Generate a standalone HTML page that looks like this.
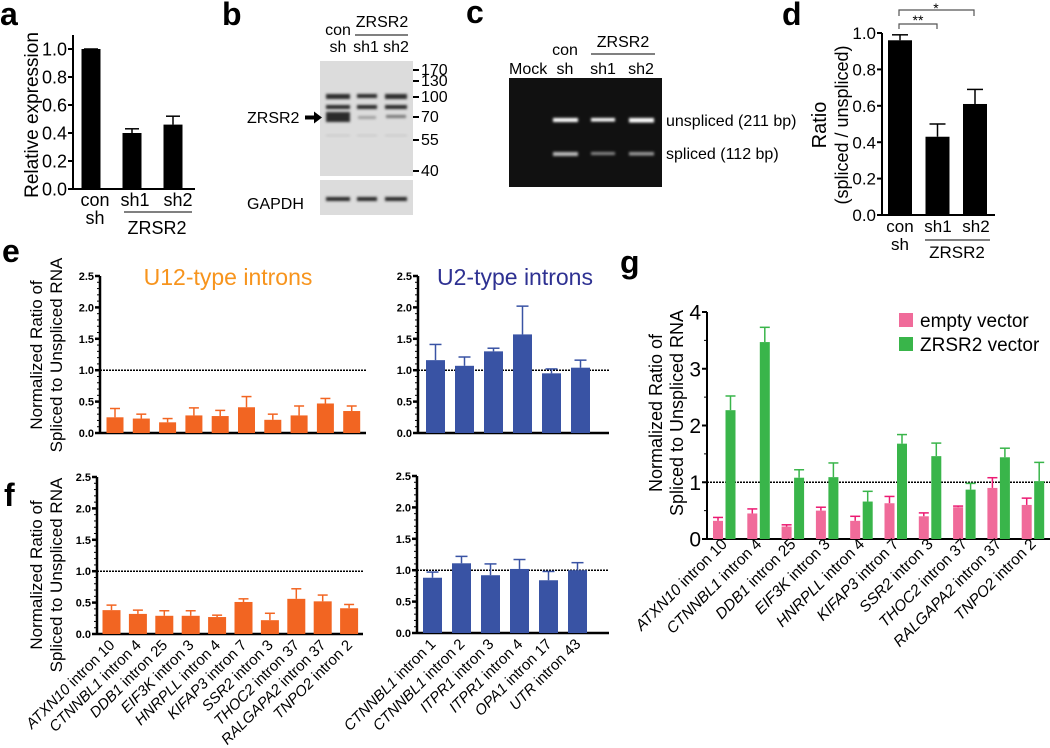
<!DOCTYPE html>
<html><head><meta charset="utf-8"><style>
html,body{margin:0;padding:0;background:#fff}
svg{display:block;font-family:"Liberation Sans",Arial,sans-serif}
</style></head><body>
<svg id="fig" width="1050" height="748" viewBox="0 0 1050 748" xmlns="http://www.w3.org/2000/svg">
<defs>
<filter id="blur1" x="-20%" y="-100%" width="140%" height="300%"><feGaussianBlur stdDeviation="1.2"/></filter>
</defs>
<g font-weight="bold" font-size="32" fill="#000">
<text x="0" y="25">a</text>
<text x="222" y="25">b</text>
<text x="466" y="23">c</text>
<text x="782" y="25">d</text>
<text x="2" y="262">e</text>
<text x="4" y="506">f</text>
<text x="620" y="273">g</text>
</g>

<g font-size="16">
<rect x="320" y="61" width="93" height="115" fill="#dcdcdc"/>
<rect x="320" y="180" width="93" height="35" fill="#dcdcdc"/>
<g fill="#2a2a2a" filter="url(#blur1)">
<rect x="326" y="94" width="24" height="5"/><rect x="357" y="94" width="20" height="4"/><rect x="385" y="94" width="22" height="5"/>
<rect x="326" y="105" width="24" height="4"/><rect x="357" y="105" width="20" height="4"/><rect x="385" y="105" width="22" height="4"/>
<rect x="326" y="112" width="24" height="10"/><rect x="358" y="116" width="18" height="3" fill="#a0a0a0"/><rect x="386" y="115" width="20" height="3" fill="#777"/>
<rect x="326" y="135" width="24" height="1" fill="#bbb"/><rect x="357" y="135" width="20" height="1" fill="#bbb"/><rect x="385" y="135" width="22" height="1" fill="#bbb"/>
<rect x="326" y="197" width="24" height="4"/><rect x="357" y="197" width="20" height="4"/><rect x="385" y="197" width="22" height="4"/>
</g>
<g fill="#000">
<text x="338" y="35" text-anchor="middle">con</text><text x="338" y="52" text-anchor="middle">sh</text>
<text x="366" y="52" text-anchor="middle">sh1</text><text x="396" y="52" text-anchor="middle">sh2</text>
<text x="382" y="27" text-anchor="middle">ZRSR2</text>
<line x1="355" y1="35" x2="408" y2="35" stroke="#000" stroke-width="1"/>
<text x="247" y="123">ZRSR2</text>
<path d="M305 115.5 h9 v-4 l8 6 -8 6 v-4 h-9z" fill="#000"/>
<text x="247" y="209">GAPDH</text>
<g>
<path d="M413 70h6M413 81h6M413 97h6M413 117h6M413 140h6M413 171h6" stroke="#000" stroke-width="2"/>
<text x="421" y="75">170</text><text x="421" y="86">130</text><text x="421" y="102">100</text>
<text x="421" y="122">70</text><text x="421" y="145">55</text><text x="421" y="176">40</text>
</g>
</g>
</g>

<g font-size="16">
<rect x="509" y="78" width="153" height="109" fill="#111"/>
<g fill="#fff" filter="url(#blur1)">
<rect x="553" y="118" width="25" height="4"/><rect x="591" y="118" width="24" height="3.5"/><rect x="629" y="118" width="25" height="4.5"/>
<rect x="553" y="152" width="25" height="4" fill="#bbb"/><rect x="591" y="152" width="24" height="3" fill="#888"/><rect x="629" y="152" width="25" height="3.5" fill="#999"/>
</g>
<text x="509" y="74">Mock</text>
<text x="565" y="55" text-anchor="middle">con</text><text x="565" y="74" text-anchor="middle">sh</text>
<text x="603" y="74" text-anchor="middle">sh1</text><text x="641" y="74" text-anchor="middle">sh2</text>
<text x="623" y="47" text-anchor="middle">ZRSR2</text>
<line x1="591" y1="54" x2="655" y2="54" stroke="#000"/>
<text x="666" y="126">unspliced (211 bp)</text>
<text x="666" y="159">spliced (112 bp)</text>
</g>

<g id="charts"></g>
</svg>
<script>
const aCats = ["con sh","sh1","sh2"];
const aVals = [1.0, 0.40, 0.46];
const aErr = [1.0, 0.43, 0.52];
const aTicks = ["0.0","0.2","0.4","0.6","0.8","1.0"];
const dCats = ["con sh","sh1","sh2"];
const dVals = [0.96, 0.43, 0.61];
const dErr = [0.99, 0.50, 0.69];
const dTicks = ["0.0","0.2","0.4","0.6","0.8","1.0"];
const u12Genes = ["ATXN10","CTNNBL1","DDB1","EIF3K","HNRPLL","KIFAP3","SSR2 ","THOC2","RALGAPA2","TNPO2"];
const u12Introns = ["intron 10","intron 4","intron 25","intron 3","intron 4","intron 7","intron 3","intron 37","intron 37","intron 2"];
const u2Genes = ["CTNNBL1","CTNNBL1","ITPR1","ITPR1","OPA1","UTR"];
const u2Introns = ["intron 1","intron 2","intron 3","intron 4","intron 17","intron 43"];
const eU12Vals = [0.25,0.23,0.17,0.28,0.27,0.41,0.21,0.28,0.47,0.35];
const eU12Err = [0.39,0.30,0.23,0.40,0.36,0.58,0.30,0.43,0.55,0.43];
const eU2Vals = [1.16,1.07,1.30,1.57,0.95,1.04];
const eU2Err = [1.41,1.21,1.35,2.02,1.02,1.16];
const fU12Vals = [0.38,0.32,0.29,0.29,0.27,0.51,0.22,0.56,0.52,0.41];
const fU12Err = [0.46,0.38,0.37,0.37,0.30,0.56,0.33,0.72,0.62,0.47];
const fU2Vals = [0.88,1.11,0.92,1.02,0.84,1.00];
const fU2Err = [0.97,1.22,1.10,1.17,0.98,1.12];
const efTicks = ["0.0","0.5","1.0","1.5","2.0","2.5"];
const gEmpty = [0.32,0.45,0.22,0.50,0.32,0.63,0.40,0.56,0.90,0.60];
const gEmptyErr = [0.38,0.53,0.25,0.56,0.40,0.75,0.46,0.58,1.08,0.72];
const gZrsr = [2.27,3.47,1.08,1.09,0.66,1.68,1.46,0.87,1.44,1.02];
const gZrsrErr = [2.52,3.73,1.22,1.34,0.84,1.84,1.69,0.98,1.60,1.35];
const gTicks = ["0","1","2","3","4"];

const NS="http://www.w3.org/2000/svg";
const root=document.getElementById("charts");
function mk(tag,attrs,parent,txt){const e=document.createElementNS(NS,tag);for(const k in attrs)e.setAttribute(k,attrs[k]);if(txt!==undefined)e.textContent=txt;(parent||root).appendChild(e);return e;}

function chart(o){
  const g=mk("g",{});
  
  
  const y=v=>o.y0-(v/o.max)*(o.y0-o.yTop);
  const x=i=>o.x0+o.off+o.step*i;
  const ax=mk("line",{x1:o.ax,y1:o.yTop-(o.overshoot||0),x2:o.ax,y2:o.y0,stroke:"#000","stroke-width":o.sw},g);
  
  
  o.ticks.forEach((t,i)=>{
    const v=o.max*i/(o.ticks.length-1), yy=y(v);
    mk("line",{x1:o.ax-5,y1:yy,x2:o.ax,y2:yy,stroke:"#000","stroke-width":o.sw},g);
    const tl=mk("text",{x:o.ax-6,y:yy+o.fs*0.36,"text-anchor":"end","font-size":o.fs,"font-weight":o.bold?"bold":"normal"},g,t);
    
    
  });
  if(o.minor){for(let v=0;v<=o.max+1e-9;v+=o.minor){const yy=y(v);mk("line",{x1:o.ax-3,y1:yy,x2:o.ax,y2:yy,stroke:"#000","stroke-width":1},g);}}
  const xa=mk("line",{x1:o.ax,y1:o.y0,x2:o.xEnd,y2:o.y0,stroke:"#000","stroke-width":o.sw},g);
  
  
  if(o.ref){const r=mk("line",{x1:o.ax,y1:y(1),x2:o.xEnd,y2:y(1),stroke:"#000","stroke-width":1.5,"stroke-dasharray":"2,1"},g);
    
    }
  o.series.forEach(s=>{
    s.vals.forEach((v,i)=>{
      const cx=x(i)+s.dx;
      const top=y(s.err[i]);
      mk("line",{x1:cx,y1:top,x2:cx,y2:y(v),stroke:s.ec,"stroke-width":1.5},g);
      mk("line",{x1:cx-o.cap,y1:top,x2:cx+o.cap,y2:top,stroke:s.ec,"stroke-width":1.5},g);
      const b=mk("rect",{x:cx-o.bw/2,y:y(v),width:o.bw,height:o.y0-y(v),fill:s.color},g);
      
      
    });
  });
  return {g,x,y};
}

const A=chart({name:"panel-a-chart",ax:73,y0:189,yTop:49,max:1.0,overshoot:14,x0:91,off:0,step:41,xEnd:195,bw:19,cap:7,sw:2,fs:18,ticks:aTicks,
  series:[{key:"a",vals:aVals,err:aErr,color:"#000",ec:"#000",dx:0}]});
mk("text",{x:95,y:206,"text-anchor":"middle","font-size":18},A.g,"con");
mk("text",{x:95,y:224,"text-anchor":"middle","font-size":18},A.g,"sh");
mk("text",{x:135,y:206,"text-anchor":"middle","font-size":18},A.g,"sh1");
mk("text",{x:178,y:206,"text-anchor":"middle","font-size":18},A.g,"sh2");
mk("line",{x1:124,y1:212,x2:192,y2:212,stroke:"#000"},A.g);
mk("text",{x:157,y:234,"text-anchor":"middle","font-size":18},A.g,"ZRSR2");
const aT=mk("text",{transform:"translate(38,115) rotate(-90)","text-anchor":"middle","font-size":19},A.g,"Relative expression");



const D=chart({name:"panel-d-chart",ax:882,y0:215,yTop:33,max:1.0,overshoot:0,x0:900,off:0,step:37.5,xEnd:995,bw:24,cap:8,sw:2,fs:17,ticks:dTicks,
  series:[{key:"d",vals:dVals,err:dErr,color:"#000",ec:"#000",dx:0}]});
mk("text",{x:900,y:232,"text-anchor":"middle","font-size":17},D.g,"con");
mk("text",{x:900,y:250,"text-anchor":"middle","font-size":17},D.g,"sh");
mk("text",{x:938,y:232,"text-anchor":"middle","font-size":17},D.g,"sh1");
mk("text",{x:976,y:232,"text-anchor":"middle","font-size":17},D.g,"sh2");
mk("line",{x1:925,y1:240,x2:990,y2:240,stroke:"#000"},D.g);
mk("text",{x:957,y:258,"text-anchor":"middle","font-size":17},D.g,"ZRSR2");
mk("text",{transform:"translate(826,125) rotate(-90)","text-anchor":"middle","font-size":20},D.g,"Ratio");
mk("text",{transform:"translate(848,125) rotate(-90)","text-anchor":"middle","font-size":18},D.g,"(spliced / unspliced)");
mk("path",{d:"M899 29 v-5 h38 v5 M899 16 v-6 h75 v6",fill:"none",stroke:"#555","stroke-width":1.2},D.g);
mk("text",{x:918,y:25,"text-anchor":"middle","font-size":14},D.g,"**");
mk("text",{x:936,y:13,"text-anchor":"middle","font-size":14},D.g,"*");

const OR="#f26522", BL="#3953a4";
function efTitle(g,cy){
  mk("text",{transform:`translate(42,${cy}) rotate(-90)`,"text-anchor":"middle","font-size":17},g,"Normalized Ratio of");
  mk("text",{transform:`translate(62,${cy}) rotate(-90)`,"text-anchor":"middle","font-size":17},g,"Spliced to Unspliced RNA");
}
const E1=chart({name:"panel-e-u12-chart",ax:100,y0:433,yTop:276,max:2.5,x0:115,off:0,step:26.3,xEnd:366,bw:17,cap:5,sw:2.5,fs:11,bold:true,minor:0.1,ticks:efTicks,ref:true,
  series:[{key:"u12",vals:eU12Vals,err:eU12Err,color:OR,ec:OR,dx:0}]});
efTitle(E1.g,355);
mk("text",{x:228,y:285,"text-anchor":"middle","font-size":23,fill:"#f7941d"},E1.g,"U12-type introns");
const E2=chart({name:"panel-e-u2-chart",ax:418,y0:433,yTop:276,max:2.5,x0:435.5,off:0,step:29,xEnd:609,bw:19,cap:6,sw:2.5,fs:11,bold:true,minor:0.1,ticks:efTicks,ref:true,
  series:[{key:"u2",vals:eU2Vals,err:eU2Err,color:BL,ec:BL,dx:0}]});
mk("text",{x:515,y:285,"text-anchor":"middle","font-size":23,fill:"#2e3192"},E2.g,"U2-type introns");
const F1=chart({name:"panel-f-u12-chart",ax:97,y0:634,yTop:477,max:2.5,x0:111.5,off:0,step:26.4,xEnd:363,bw:18,cap:5,sw:2.5,fs:11,bold:true,minor:0.1,ticks:efTicks,ref:true,
  series:[{key:"u12",vals:fU12Vals,err:fU12Err,color:OR,ec:OR,dx:0}]});
efTitle(F1.g,575);
const F2=chart({name:"panel-f-u2-chart",ax:417,y0:633,yTop:476,max:2.5,x0:432.5,off:0,step:29,xEnd:609,bw:19,cap:6,sw:2.5,fs:11,bold:true,minor:0.1,ticks:efTicks,ref:true,
  series:[{key:"u2",vals:fU2Vals,err:fU2Err,color:BL,ec:BL,dx:0}]});

function xLabels(C,genes,introns,y0,fs){
  genes.forEach((gn,i)=>{
    const cx=C.x(i)+4;
    const t=mk("text",{transform:`translate(${cx},${y0+12}) rotate(-45)`,"text-anchor":"end","font-size":fs},C.g);
    
    
    mk("tspan",{"font-style":"italic"},t,gn);
    mk("tspan",{},t," "+introns[i]);
  });
}
xLabels(F1,u12Genes,u12Introns,634,15);
xLabels(F2,u2Genes,u2Introns,633,15);

const G=chart({name:"panel-g-chart",ax:707,y0:539,yTop:312,max:4,x0:724,off:0,step:34.3,xEnd:1050,bw:10,cap:5,sw:2,fs:21,ticks:gTicks,ref:true,
  series:[{key:"empty-vector",vals:gEmpty,err:gEmptyErr,color:"#f06b9a",ec:"#ec1a72",dx:-6},
          {key:"zrsr2-vector",vals:gZrsr,err:gZrsrErr,color:"#39b54a",ec:"#39b54a",dx:6.5}]});
for(let v=0.5;v<4;v+=1){const yy=G.y(v);mk("line",{x1:704,y1:yy,x2:707,y2:yy,stroke:"#000"},G.g);}
mk("text",{transform:"translate(662,413) rotate(-90)","text-anchor":"middle","font-size":18},G.g,"Normalized Ratio of");
mk("text",{transform:"translate(683,413) rotate(-90)","text-anchor":"middle","font-size":18},G.g,"Spliced to Unspliced RNA");
xLabels(G,u12Genes,u12Introns,533,15.5);
const lg=mk("g",{},G.g);


const l1=mk("rect",{x:899,y:313,width:14,height:14,fill:"#f06b9a"},lg);


mk("text",{x:920,y:327,"font-size":19},lg,"empty vector");
const l2=mk("rect",{x:899,y:337,width:14,height:14,fill:"#39b54a"},lg);


mk("text",{x:920,y:351,"font-size":19},lg,"ZRSR2 vector");
</script>
</body></html>
